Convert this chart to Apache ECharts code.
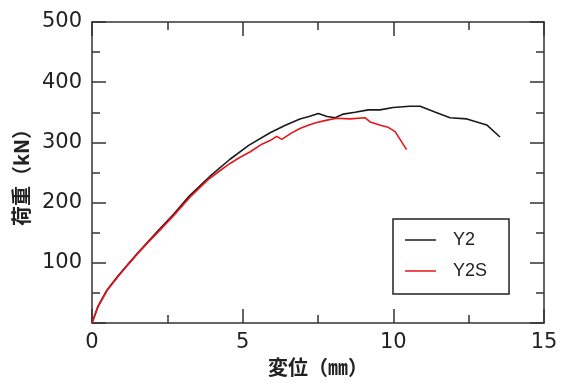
<!DOCTYPE html>
<html>
<head>
<meta charset="utf-8">
<script src="https://cdn.jsdelivr.net/npm/echarts@6/dist/echarts.min.js"></script>
<style>
  html, body { margin: 0; padding: 0; background: #fff; }
  #chart { width: 561px; height: 383px; }
</style>
</head>
<body>
<div id="chart"></div>
<script>
// displacement (mm) / load (kN)
const y2Disp = [0, 0.2, 0.5, 0.86, 1.2, 1.53, 2.19, 2.7, 3.25, 3.9, 4.58, 5.2, 5.91, 6.4, 6.9, 7.2, 7.51, 7.8, 8.07, 8.34, 8.73, 9.17, 9.56, 9.99, 10.55, 10.89, 11.4, 11.88, 12.44, 13.1, 13.54];
const y2Load = [0, 28, 55, 78, 98, 117, 153, 180, 212, 243, 272, 295, 316, 328, 339, 343, 348, 343, 341, 347, 350, 354, 354, 358, 360, 360, 350, 341, 339, 329, 309];

const y2sDisp = [0, 0.2, 0.5, 0.86, 1.2, 1.53, 1.9, 2.19, 2.7, 3.25, 3.6, 3.9, 4.3, 4.58, 4.9, 5.24, 5.6, 5.91, 6.13, 6.3, 6.6, 6.9, 7.2, 7.46, 7.8, 8.12, 8.56, 9.06, 9.23, 9.6, 9.83, 10.06, 10.44];
const y2sLoad = [0, 27, 54, 77, 97, 116, 136, 151, 178, 209, 226, 240, 255, 265, 275, 284, 296, 303, 310, 305, 315, 323, 329, 333, 337, 340, 339, 341, 334, 328, 325, 318, 288];

const seriesNames = ['Y2', 'Y2S'];
const seriesColors = ['#1a1a1a', '#e8141c'];

const pairs = (xs, ys) => xs.map((x, i) => [x, ys[i]]);

const axisColor = '#333';
const labelFont = '"DejaVu Sans", sans-serif';

const chart = echarts.init(document.getElementById('chart'), null, { renderer: 'canvas' });

const frameAxis = (extra) => Object.assign({
  type: 'value',
  axisLine: { show: true, onZero: false, lineStyle: { color: axisColor, width: 1.5 } },
  axisTick: { show: true, inside: true, length: 14, lineStyle: { color: axisColor, width: 1.5 } },
  minorTick: { show: true, splitNumber: 2, length: 8, lineStyle: { color: axisColor, width: 1.5 } },
  splitLine: { show: false },
}, extra);

chart.setOption({
  animation: false,
  backgroundColor: '#fff',
  grid: { left: 92, top: 22, right: 17, bottom: 60, containLabel: false },
  legend: {
    data: seriesNames,
    orient: 'vertical',
    left: 393,
    top: 219,
    padding: [12, 22, 14, 12],
    itemGap: 13,
    itemWidth: 31,
    itemHeight: 1.5,
    icon: 'rect',
    backgroundColor: '#fff',
    borderColor: '#222',
    borderWidth: 1.5,
    textStyle: { fontFamily: '"Liberation Sans", Arial, sans-serif', fontSize: 18, color: '#222', padding: [0, 0, 0, 12] },
  },
  xAxis: [
    frameAxis({
      min: 0, max: 15, interval: 5,
      name: '変位（㎜）',
      nameLocation: 'middle',
      nameGap: 33,
      nameTextStyle: { fontFamily: '"Noto Sans CJK JP", sans-serif', fontSize: 20, fontWeight: 'bold', color: '#222' },
      axisLabel: { fontFamily: labelFont, fontSize: 21, color: '#222', margin: 9 },
    }),
    frameAxis({
      min: 0, max: 15, interval: 5, position: 'top',
      axisLabel: { show: false },
    }),
  ],
  yAxis: [
    frameAxis({
      min: 0, max: 500, interval: 100,
      name: '荷重（kN）',
      nameLocation: 'middle',
      nameGap: 59,
      nameTextStyle: { fontFamily: '"Noto Sans CJK JP", sans-serif', fontSize: 20, fontWeight: 'bold', color: '#222' },
      axisLabel: {
        fontFamily: labelFont, fontSize: 21, color: '#222', margin: 10,
        formatter: (v) => (v === 0 ? '' : String(v)),
      },
    }),
    frameAxis({
      min: 0, max: 500, interval: 100, position: 'right',
      axisLabel: { show: false },
    }),
  ],
  series: [
    {
      name: seriesNames[0],
      type: 'line',
      data: pairs(y2Disp, y2Load),
      showSymbol: false,
      symbol: 'none',
      lineStyle: { color: seriesColors[0], width: 1.6 },
      itemStyle: { color: seriesColors[0] },
      z: 2,
    },
    {
      name: seriesNames[1],
      type: 'line',
      data: pairs(y2sDisp, y2sLoad),
      showSymbol: false,
      symbol: 'none',
      lineStyle: { color: seriesColors[1], width: 1.6 },
      itemStyle: { color: seriesColors[1] },
      z: 3,
    },
  ],
});
</script>
</body>
</html>
